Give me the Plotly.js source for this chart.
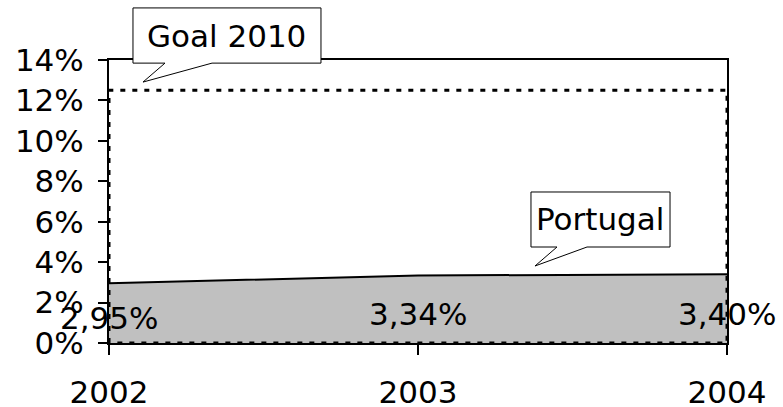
<!DOCTYPE html>
<html><head><meta charset="utf-8">
<script src="https://cdn.plot.ly/plotly-3.0.1.min.js"></script>
<style>html,body{margin:0;padding:0;background:#fff}#c{width:783px;height:407px}</style>
</head><body><div id="c"></div>
<script>
const years = [2002, 2003, 2004];
const portugal = [2.95, 3.34, 3.40];
const goal = [12.5, 12.5, 12.5];
const yTicks = [0, 2, 4, 6, 8, 10, 12, 14];
const yTickText = ['0%', '2%', '4%', '6%', '8%', '10%', '12%', '14%'];
const seriesNames = ['Goal 2010', 'Portugal'];

const F = 'DejaVu Sans, Verdana, sans-serif';
const FS = 31;

const goalX = [years[0]].concat(years, [years[years.length-1], years[0]]);
const goalY = [0].concat(goal, [0, 0]);

const traces = [
  {x: years, y: portugal, type: 'scatter', mode: 'lines', fill: 'tozeroy',
   fillcolor: '#c0c0c0', line: {color: '#000', width: 2}, hoverinfo: 'none'},
  {x: goalX, y: goalY, type: 'scatter', mode: 'lines',
   line: {color: '#000', width: 3, dash: '5px,7px'}, hoverinfo: 'none', cliponaxis: false}
];

const labels = years.map((yr, i) => ({
  x: yr, y: portugal[i] / 2, xref: 'x', yref: 'y', yshift: -5,
  text: portugal[i].toFixed(2).replace('.', ',') + '%', showarrow: false,
  font: {family: F, size: FS, color: '#000'}
}));

const callouts = [
  {x0: 0.0388, x1: 0.343, yb: 0.989, yt: 1.184, wl: 0.0906, wr: 0.1667, tx: 0.055, ty: 0.922, text: seriesNames[0]},
  {x0: 0.6828, x1: 0.9078, yb: 0.3392, yt: 0.5336, wl: 0.7249, wr: 0.7735, tx: 0.6893, ty: 0.2721, text: seriesNames[1]}
];
const shapes = callouts.map(c => ({
  type: 'path', xref: 'paper', yref: 'paper',
  path: `M${c.x0},${c.yb} L${c.wl},${c.yb} L${c.tx},${c.ty} L${c.wr},${c.yb} L${c.x1},${c.yb} L${c.x1},${c.yt} L${c.x0},${c.yt} Z`,
  fillcolor: '#fff', line: {color: '#000', width: 1}
}));
const calloutText = callouts.map(c => ({
  xref: 'paper', yref: 'paper', x: (c.x0 + c.x1) / 2, y: (c.yb + c.yt) / 2,
  xanchor: 'center', yanchor: 'middle', text: c.text, showarrow: false,
  font: {family: F, size: FS, color: '#000'}
}));

const layout = {
  width: 783, height: 407,
  margin: {l: 109, r: 56, t: 60, b: 64},
  paper_bgcolor: '#fff', plot_bgcolor: '#fff',
  showlegend: false,
  font: {family: F, size: FS, color: '#000'},
  xaxis: {range: [years[0], years[years.length-1]], tickvals: years, ticktext: years.map(String),
    showgrid: false, zeroline: false, showline: true, linecolor: '#000', linewidth: 2, mirror: true,
    ticks: 'outside', ticklen: 10, tickwidth: 2, tickcolor: '#000', ticklabelstandoff: 11,
    tickfont: {family: F, size: FS, color: '#000'}},
  yaxis: {range: [0, 14], tickvals: yTicks, ticktext: yTickText,
    showgrid: false, zeroline: false, showline: true, linecolor: '#000', linewidth: 2, mirror: true,
    ticks: 'outside', ticklen: 9, tickwidth: 2, tickcolor: '#000', ticklabelstandoff: 8,
    tickfont: {family: F, size: FS, color: '#000'}},
  shapes: shapes,
  annotations: labels.concat(calloutText)
};

Plotly.newPlot('c', traces, layout, {staticPlot: true, displayModeBar: false});
</script></body></html>
